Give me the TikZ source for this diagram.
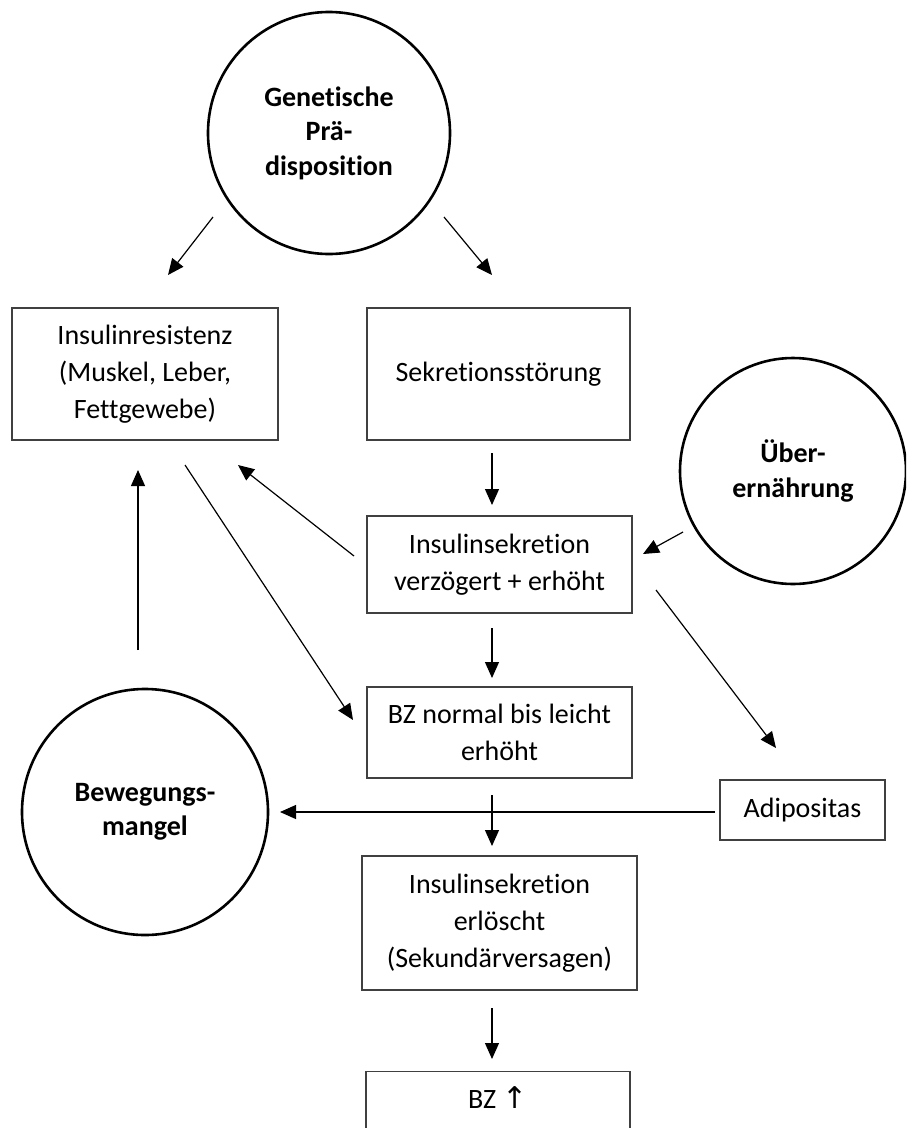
\documentclass[tikz,border=0pt]{standalone}
\usepackage{fontspec}
\setmainfont{Carlito}[Ligatures=NoCommon]
\newfontfamily\symfont{DejaVu Sans}
\usetikzlibrary{arrows.meta}
\begin{document}
\begin{tikzpicture}[x=1pt,y=-1pt,
 box/.style={draw=black!75, line width=1.3pt, inner sep=0pt, align=center, font=\fontsize{28}{37}\selectfont},
 circ/.style={draw=black, line width=2.6pt, circle, inner sep=0pt, align=center, font=\bfseries\fontsize{28}{34.5}\selectfont},
 arr/.style={-{Triangle[length=16pt,width=14pt]}, line width=1.2pt, black}
]
\clip (0,0) rectangle (906,1128);
\fill[white] (0,0) rectangle (906,1128);
% circles
\node[circ, minimum size=242pt] (gen) at (329,133) {Genetische\\Prä-\\disposition};
\node[circ, minimum size=226pt] (ueb) at (793,471) {Über-\\ernährung};
\node[circ, minimum size=246pt] (bew) at (145,812) {Bewegungs-\\mangel};
% boxes
\node[box, minimum width=266pt, minimum height=132pt] (ir) at (145,374) {Insulinresistenz\\(Muskel, Leber,\\Fettgewebe)};
\node[box, minimum width=263pt, minimum height=132pt] (sek) at (498.5,374) {Sekretionsstörung};
\node[box, minimum width=265pt, minimum height=97pt] (isv) at (499.5,564.5) {Insulinsekretion\\verzögert + erhöht};
\node[box, minimum width=265pt, minimum height=91pt] (bzn) at (499.5,732.5) {BZ normal bis leicht\\erhöht};
\node[box, minimum width=165pt, minimum height=60pt] (adi) at (802.5,810) {Adipositas};
\node[box, minimum width=275pt, minimum height=134pt] (ise) at (499.5,923) {Insulinsekretion\\erlöscht\\(Sekundärversagen)};
\node[box, minimum width=264pt, minimum height=100pt, anchor=north] (bzh) at (498,1071) {};
\node[font=\fontsize{28}{37}\selectfont] (bzht) at (498,1097) {BZ {\symfont\fontsize{30}{36}\selectfont ↑}};
% arrow end coordinates
\coordinate (a1s) at (213,217); \coordinate (a1e) at (168,275);
\coordinate (a2s) at (444,217); \coordinate (a2e) at (492,275);
\coordinate (a3s) at (492,453); \coordinate (a3e) at (492,505);
\coordinate (a4s) at (354,556); \coordinate (a4e) at (238,465);
\coordinate (a5s) at (185,465); \coordinate (a5e) at (353,720);
\coordinate (a6s) at (138,650); \coordinate (a6e) at (138,470);
\coordinate (a7s) at (683,532); \coordinate (a7e) at (643,554);
\coordinate (a8s) at (656,590); \coordinate (a8e) at (776,748);
\coordinate (a9s) at (492,628); \coordinate (a9e) at (492,678);
\coordinate (a10s) at (715,812); \coordinate (a10e) at (280,812);
\coordinate (a11s) at (492,795); \coordinate (a11e) at (492,846);
\coordinate (a12s) at (492,1008); \coordinate (a12e) at (492,1059);
\foreach \i in {1,...,12} {\draw[arr] (a\i s) -- (a\i e);}
\end{tikzpicture}
\end{document}
